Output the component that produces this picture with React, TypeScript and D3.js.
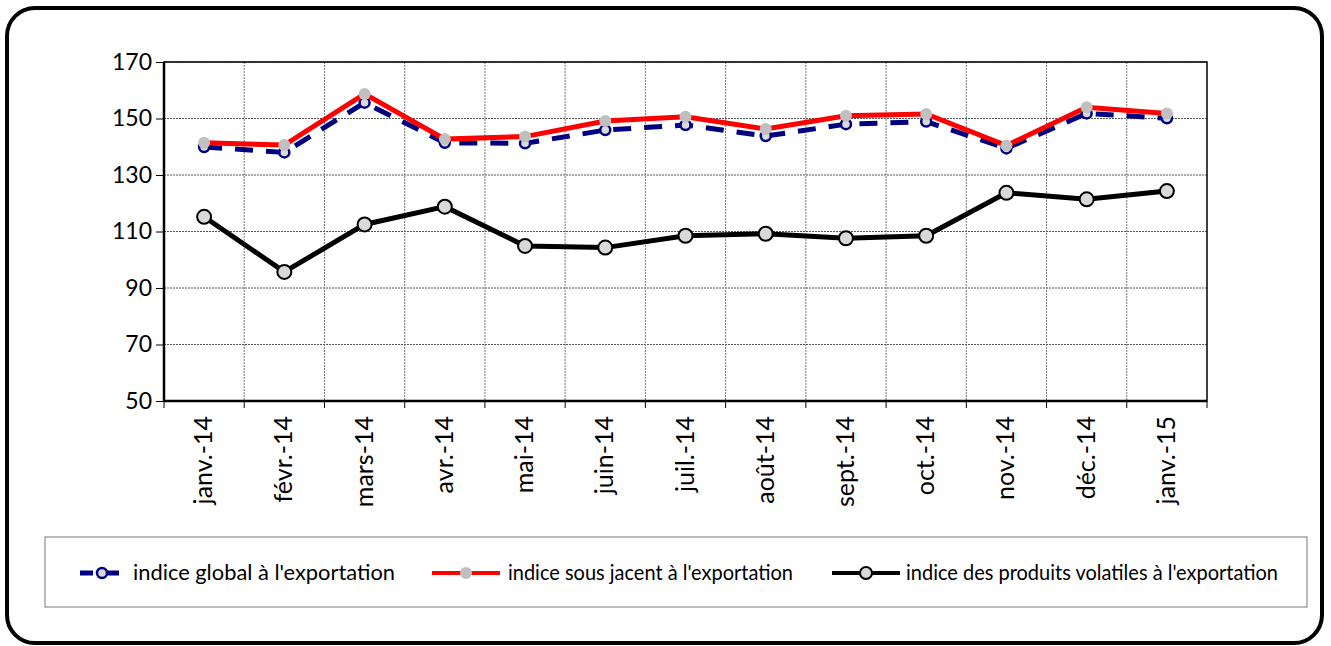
import React, { useEffect, useRef } from 'react';
import * as d3 from 'd3';

const months = ['janv.-14', 'févr.-14', 'mars-14', 'avr.-14', 'mai-14', 'juin-14', 'juil.-14', 'août-14', 'sept.-14', 'oct.-14', 'nov.-14', 'déc.-14', 'janv.-15'];
const globalIdx = [139.9, 138.0, 155.6, 141.4, 141.2, 145.9, 147.7, 143.8, 148.0, 148.9, 139.4, 151.8, 150.1];
const sousJacent = [141.4, 140.6, 158.7, 142.7, 143.6, 149.1, 150.6, 146.3, 151.0, 151.6, 140.4, 154.0, 151.8];
const volatiles = [115.2, 95.7, 112.5, 118.8, 104.9, 104.3, 108.5, 109.2, 107.6, 108.5, 123.7, 121.4, 124.3];
const yTicks = [50, 70, 90, 110, 130, 150, 170];
const legendLabels = ["indice global à l'exportation", "indice sous jacent à l'exportation", "indice des produits volatiles à l'exportation"];

const FONT = 'Lato, "Open Sans", sans-serif';

const App = () => {
  const svgRef = useRef<SVGSVGElement>(null);

  useEffect(() => {
    const svg = d3.select(svgRef.current);
    svg.selectAll('*').remove();

    const left = 164, right = 1207, top = 62, bottom = 401;

    svg.append('rect')
      .attr('x', 7).attr('y', 8).attr('width', 1315).attr('height', 635)
      .attr('rx', 28).attr('fill', 'white').attr('stroke', 'black').attr('stroke-width', 4);

    const x = d3.scaleBand().domain(months).range([left, right]);
    const y = d3.scaleLinear().domain([50, 170]).range([bottom, top]);
    const cx = (m: string) => (x(m) as number) + x.bandwidth() / 2;

    // grid
    const grid = svg.append('g');
    yTicks.forEach(t => {
      grid.append('line').attr('x1', left).attr('x2', right).attr('y1', y(t)).attr('y2', y(t))
        .attr('stroke', '#555').attr('stroke-width', 1).attr('stroke-dasharray', '2,1');
    });
    months.slice(1).forEach(m => {
      grid.append('line').attr('x1', x(m)!).attr('x2', x(m)!).attr('y1', top).attr('y2', bottom)
        .attr('stroke', '#777').attr('stroke-width', 1).attr('stroke-dasharray', '2,1');
    });

    // plot border
    svg.append('rect').attr('x', left).attr('y', top).attr('width', right - left).attr('height', bottom - top)
      .attr('fill', 'none').attr('stroke', 'black').attr('stroke-width', 1.5);
    svg.append('line').attr('x1', left).attr('x2', left).attr('y1', top).attr('y2', bottom)
      .attr('stroke', 'black').attr('stroke-width', 2.5);
    svg.append('line').attr('x1', left).attr('x2', right).attr('y1', bottom).attr('y2', bottom)
      .attr('stroke', 'black').attr('stroke-width', 2.5);

    // y axis
    const yAxis = svg.append('g').attr('transform', `translate(${left},0)`)
      .call(d3.axisLeft(y).tickValues(yTicks).tickSize(8).tickPadding(4));
    yAxis.select('.domain').remove();
    yAxis.selectAll('text').attr('font-family', FONT).attr('font-size', 23).attr('fill', 'black');

    // x axis ticks at boundaries
    const bounds = [...months.map(m => x(m) as number), right];
    bounds.forEach(b => {
      svg.append('line').attr('x1', b).attr('x2', b).attr('y1', bottom).attr('y2', bottom + 7)
        .attr('stroke', 'black').attr('stroke-width', 1);
    });
    months.forEach(m => {
      svg.append('text')
        .attr('transform', `translate(${cx(m) + 8},${bottom + 15}) rotate(-90)`)
        .attr('text-anchor', 'end')
        .attr('font-family', FONT).attr('font-size', 25).attr('fill', 'black')
        .text(m);
    });

    const line = d3.line<number>().x((_, i) => cx(months[i])).y(d => y(d));

    // global (dashed navy)
    svg.append('path').datum(globalIdx).attr('d', line).attr('fill', 'none')
      .attr('stroke', '#000080').attr('stroke-width', 5).attr('stroke-dasharray', '18,13');
    svg.selectAll('.gm').data(globalIdx).enter().append('circle')
      .attr('cx', (_, i) => cx(months[i])).attr('cy', d => y(d)).attr('r', 5)
      .attr('fill', '#d9d9d9').attr('stroke', '#000080').attr('stroke-width', 2.5);

    // sous jacent (red)
    svg.append('path').datum(sousJacent).attr('d', line).attr('fill', 'none')
      .attr('stroke', '#ff0000').attr('stroke-width', 5);
    svg.selectAll('.sm').data(sousJacent).enter().append('circle')
      .attr('cx', (_, i) => cx(months[i])).attr('cy', d => y(d)).attr('r', 6)
      .attr('fill', '#c0c0c0');

    // volatiles (black)
    svg.append('path').datum(volatiles).attr('d', line).attr('fill', 'none')
      .attr('stroke', 'black').attr('stroke-width', 5);
    svg.selectAll('.vm').data(volatiles).enter().append('circle')
      .attr('cx', (_, i) => cx(months[i])).attr('cy', d => y(d)).attr('r', 7)
      .attr('fill', '#d9d9d9').attr('stroke', 'black').attr('stroke-width', 2);

    // legend
    svg.append('rect').attr('x', 45).attr('y', 537).attr('width', 1262).attr('height', 70)
      .attr('fill', 'white').attr('stroke', '#777').attr('stroke-width', 1);
    const ly = 573;
    const lg = svg.append('g');
    // item 1
    lg.append('line').attr('x1', 80).attr('x2', 124).attr('y1', ly).attr('y2', ly)
      .attr('stroke', '#000080').attr('stroke-width', 5).attr('stroke-dasharray', '13,13');
    lg.append('circle').attr('cx', 102).attr('cy', ly).attr('r', 5)
      .attr('fill', '#d9d9d9').attr('stroke', '#000080').attr('stroke-width', 2.5);
    // item 2
    lg.append('line').attr('x1', 432).attr('x2', 500).attr('y1', ly).attr('y2', ly)
      .attr('stroke', '#ff0000').attr('stroke-width', 4);
    lg.append('circle').attr('cx', 466).attr('cy', ly).attr('r', 6).attr('fill', '#c0c0c0');
    // item 3
    lg.append('line').attr('x1', 832).attr('x2', 900).attr('y1', ly).attr('y2', ly)
      .attr('stroke', 'black').attr('stroke-width', 4);
    lg.append('circle').attr('cx', 866).attr('cy', ly).attr('r', 6)
      .attr('fill', '#d9d9d9').attr('stroke', 'black').attr('stroke-width', 2);
    const textX = [133, 508, 906];
    const textW = [262, 285, 372];
    textX.forEach((tx, i) => {
      lg.append('text').attr('x', tx).attr('y', ly + 7).attr('font-family', FONT).attr('font-size', 21)
        .attr('textLength', textW[i]).attr('lengthAdjust', 'spacingAndGlyphs')
        .attr('fill', 'black').text(legendLabels[i]);
    });
  }, []);

  return <svg ref={svgRef} width={1331} height={646} style={{ position: 'absolute', left: 0, top: 0 }} />;
};

export default App;
